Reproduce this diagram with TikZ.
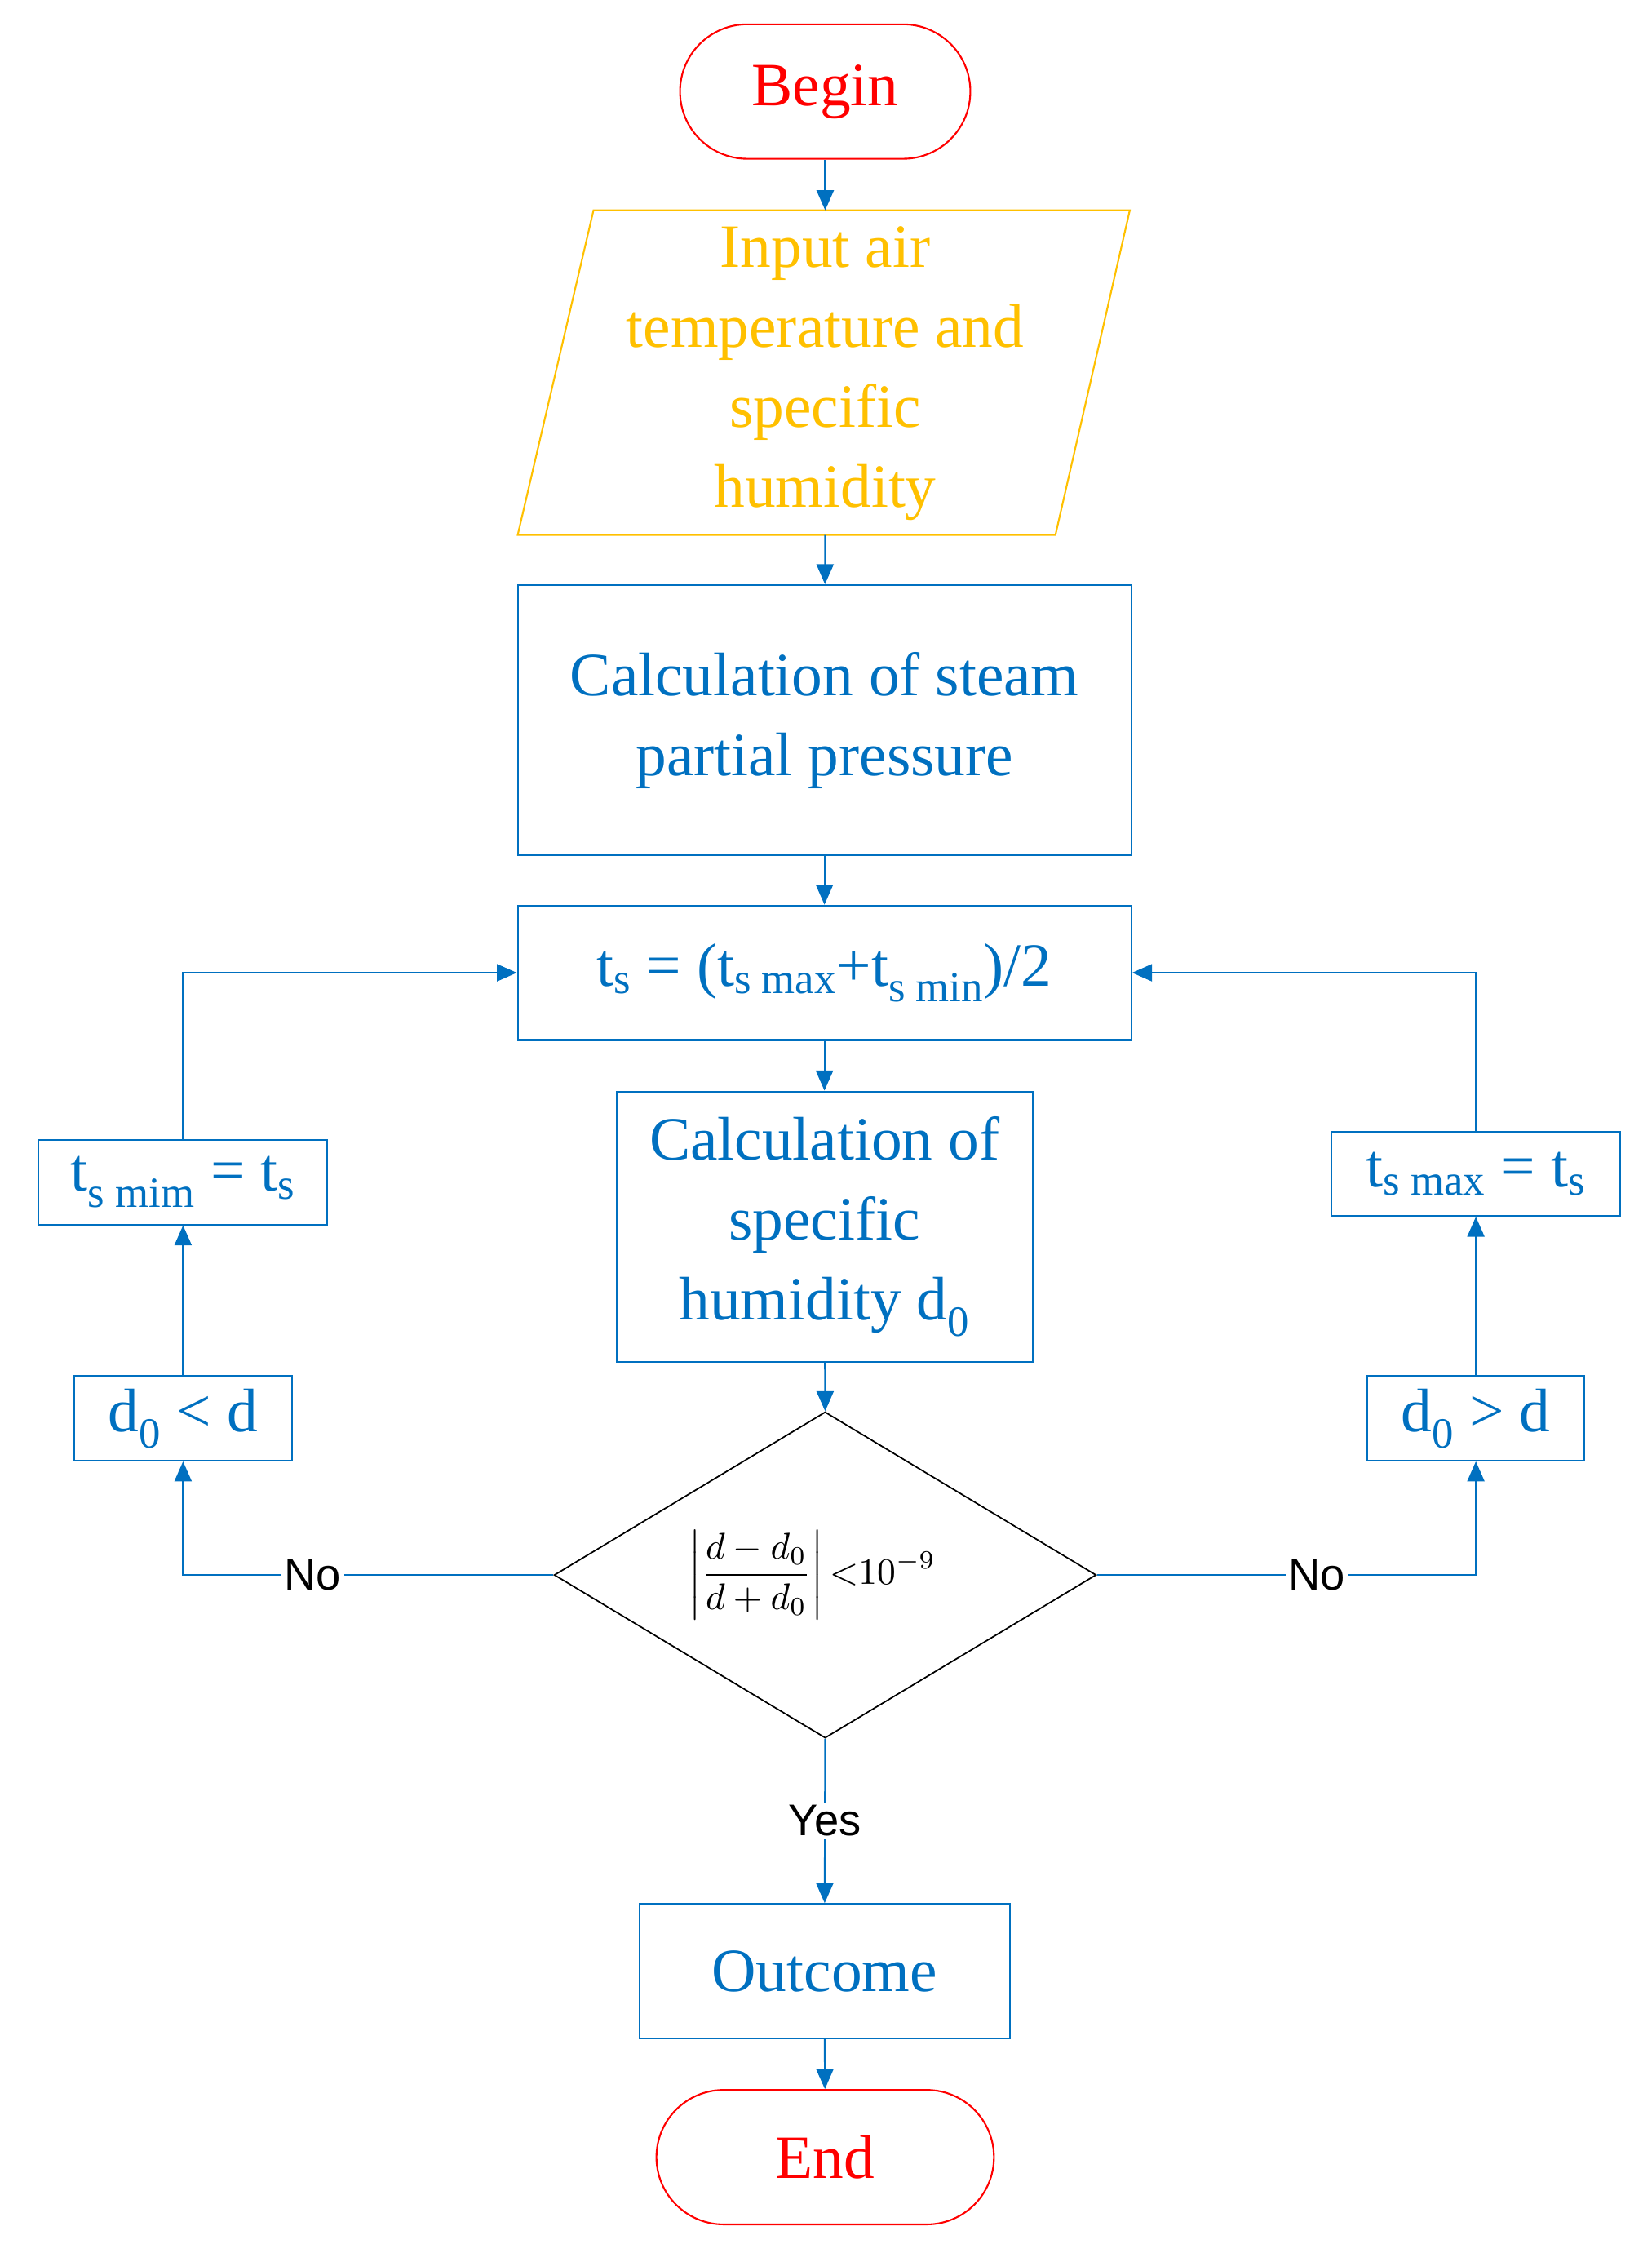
\documentclass[tikz,border=0pt]{standalone}
\usepackage{fontspec}
\usepackage{graphicx}
\setmainfont{Liberation Serif}
\newfontfamily\sansf{Liberation Sans}
\usetikzlibrary{arrows.meta,shapes.geometric}
\definecolor{fblue}{RGB}{0,112,192}
\definecolor{forange}{RGB}{255,192,0}
\begin{document}
\begin{tikzpicture}[x=1pt,y=-1pt,
 txt/.style={font=\fontsize{43}{56}\selectfont,align=center},
 box/.style={draw=fblue,line width=1.2pt,text=fblue,txt},
 arr/.style={draw=fblue,line width=1.2pt,-{Triangle[length=14pt,width=12pt]}},
 lab/.style={fill=white,font=\sansf\fontsize{31}{36}\selectfont,inner sep=2pt}]
\useasboundingbox (0,0) rectangle (1155,1575);
\node[draw=red,line width=1.2pt,rounded corners=47pt,minimum width=203pt,minimum height=94pt,text=red,txt] (begin) at (577,64) {Begin};
\draw[forange,line width=1.2pt] (415,147) -- (790,147) -- (738,374) -- (362,374) -- cycle;
\coordinate (inT) at (577,147); \coordinate (inB) at (577,374);
\node[txt,text=forange] (in) at (577,261) {Input air\\temperature and\\specific\\humidity};
\node[box,minimum width=429pt,minimum height=189pt] (steam) at (576.5,503.5) {Calculation of steam\\partial pressure};
\node[box,minimum width=429pt,minimum height=94pt] (ts) at (576.5,680) {t\textsubscript{s} = (t\textsubscript{s max}+t\textsubscript{s min})/2};
\node[box,minimum width=291pt,minimum height=189pt] (spec) at (576.5,857.5) {Calculation of\\specific\\humidity d\textsubscript{0}};
\node[draw=black,line width=1pt,diamond,minimum width=379pt,minimum height=228pt,inner sep=0pt] (dia) at (577,1101) {};
\node (frm) at (568,1101) {\scalebox{2.6}{$\displaystyle\left|\frac{d-d_0}{d+d_0}\right|{<}10^{-9}$}};
\node[box,minimum width=259pt,minimum height=94pt] (out) at (576.5,1378) {Outcome};
\node[draw=red,line width=1.2pt,rounded corners=47pt,minimum width=236pt,minimum height=94pt,text=red,txt] (end) at (577,1508) {End};
\node[box,minimum width=202pt,minimum height=59pt,inner sep=0pt] (tmin) at (128,826.5) {t\textsubscript{s mim} = t\textsubscript{s}};
\node[box,minimum width=152pt,minimum height=59pt,inner sep=0pt] (lt) at (128,991.5) {d\textsubscript{0} < d};
\node[box,minimum width=202pt,minimum height=59pt,inner sep=0pt] (tmax) at (1032,820.5) {t\textsubscript{s max} = t\textsubscript{s}};
\node[box,minimum width=152pt,minimum height=59pt,inner sep=0pt] (gt) at (1032,991.5) {d\textsubscript{0} > d};
\draw[arr] (begin) -- (inT);
\draw[arr] (inB) -- (steam);
\draw[arr] (steam) -- (ts);
\draw[arr] (ts) -- (spec);
\draw[arr] (spec) -- (dia.north);
\draw[arr] (dia.south) -- node[lab,pos=0.5]{Yes} (out);
\draw[arr] (out) -- (end);
\draw[arr] (dia.west) -- node[lab,pos=0.65]{No} (128,1101) -- (lt.south);
\draw[arr] (lt) -- (tmin);
\draw[arr] (tmin.north) |- (ts.west);
\draw[arr] (dia.east) -- node[lab,pos=0.58]{No} (1032,1101) -- (gt.south);
\draw[arr] (gt) -- (tmax);
\draw[arr] (tmax.north) |- (ts.east);
\end{tikzpicture}
\end{document}
